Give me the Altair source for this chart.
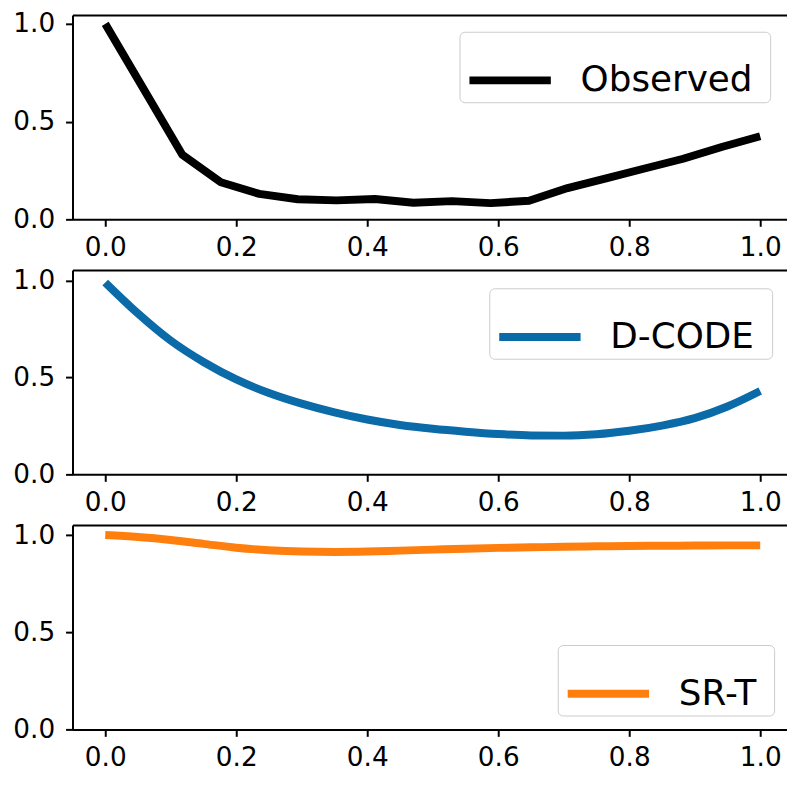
import altair as alt
import pandas as pd

# ---------------- data ----------------
obs_x = [k / 17 for k in range(18)]
obs_y = [1.0, 0.665, 0.33, 0.19, 0.13, 0.103, 0.097, 0.104, 0.085, 0.093,
         0.083, 0.095, 0.16, 0.21, 0.26, 0.31, 0.37, 0.425]

smooth_x = [0.00, 0.05, 0.10, 0.15, 0.20, 0.25, 0.30, 0.35, 0.40, 0.45, 0.50,
            0.55, 0.60, 0.65, 0.70, 0.75, 0.80, 0.85, 0.90, 0.95, 1.00]
dcode_y = [0.99, 0.83, 0.69, 0.58, 0.49, 0.42, 0.365, 0.32, 0.283, 0.255, 0.235,
           0.22, 0.208, 0.201, 0.200, 0.207, 0.225, 0.252, 0.29, 0.35, 0.43]
srt_y = [1.0, 0.99, 0.975, 0.955, 0.935, 0.922, 0.915, 0.913, 0.915, 0.92, 0.925,
         0.93, 0.934, 0.937, 0.94, 0.942, 0.944, 0.945, 0.946, 0.947, 0.947]

x_ticks = [0.0, 0.2, 0.4, 0.6, 0.8, 1.0]
y_ticks = [0.0, 0.5, 1.0]

W = 720
H = 206
XDOM = [-0.05, -0.05 + W / 660]
FONT = "DejaVu Sans"
TICK_FS = 26.5


def panel(xs, ys, name, color, ymax, lx, ly, interp):
    df = pd.DataFrame({"x": xs, "y": ys, "series": name})
    xscale = alt.Scale(domain=XDOM, nice=False, zero=False)
    yscale = alt.Scale(domain=[0, ymax], nice=False, zero=False)
    line = alt.Chart(df).mark_line(strokeWidth=8, strokeJoin="round",
                                   interpolate=interp, clip=True).encode(
        x=alt.X("x:Q", scale=xscale,
                axis=alt.Axis(values=x_ticks, format=".1f", title=None, orient="bottom",
                              labelFont=FONT, labelFontSize=TICK_FS, labelPadding=8)),
        y=alt.Y("y:Q", scale=yscale,
                axis=alt.Axis(values=y_ticks, format=".1f", title=None,
                              labelFont=FONT, labelFontSize=TICK_FS, labelPadding=11)),
        color=alt.Color("series:N", scale=alt.Scale(domain=[name], range=[color]),
                        legend=alt.Legend(title="\u2800", titleOrient="right",
                                          titleFontSize=1, titlePadding=13,
                                          orient="none", legendX=lx, legendY=ly)),
    )
    top = alt.Chart(df).mark_rule(opacity=0).encode(
        x=alt.X("x:Q", scale=xscale,
                axis=alt.Axis(orient="top", labels=False, ticks=False, title=None,
                              domain=True)),
    )
    return alt.layer(line, top).properties(width=W, height=H)


p1 = panel(obs_x, obs_y, "Observed", "#000000", 1.046, 390, 17, "linear")
p2 = panel(smooth_x, dcode_y, "D-CODE", "#0b6aa8", 1.055, 420, 18.5, "monotone")
p3 = panel(smooth_x, srt_y, "SR-T", "#ff7f0e", 1.052, 489, 121, "monotone")

chart = alt.vconcat(p1, p2, p3, spacing=6).resolve_scale(
    color="independent").resolve_legend(color="independent").properties(
    padding={"left": 4, "top": 0, "right": 0, "bottom": 0}
).configure_view(stroke=None).configure_axis(
    grid=False, domainColor="black", domainWidth=2, tickColor="black",
    tickWidth=2, tickSize=7, labelFont=FONT, labelFontSize=TICK_FS,
    labelColor="black", labelFlush=False, labelOverlap=False
).configure_legend(
    padding=4, cornerRadius=5, strokeColor="#cccccc", fillColor="white",
    labelFont=FONT, labelFontSize=36, labelColor="black", labelLimit=600,
    symbolType="stroke", symbolSize=6724, symbolStrokeWidth=8, labelOffset=26,
    symbolOffset=2
)

chart.save("out.html", embed_options={"renderer": "svg", "actions": False})
